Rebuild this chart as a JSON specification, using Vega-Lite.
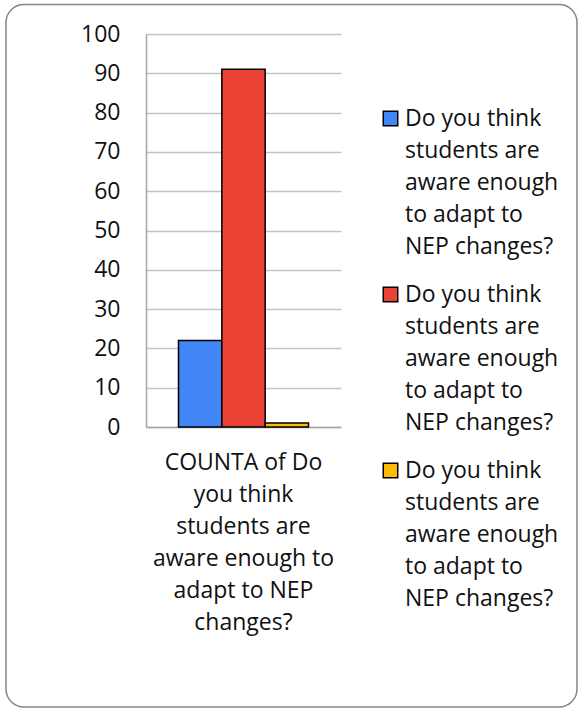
{
  "$schema": "https://vega.github.io/schema/vega-lite/v6.json",
  "autosize": {"type": "none"},
  "width": 195,
  "height": 393,
  "padding": {"left": 146, "top": 34, "right": 241, "bottom": 284},
  "background": "#ffffff",
  "config": {
    "font": "Open Sans",
    "view": {"stroke": null},
    "style": {"guide-label": {"lineHeight": 32}}
  },
  "layer": [
    {
      "data": {"values": [{}]},
      "mark": {
        "type": "rect",
        "fill": null,
        "stroke": "#858585",
        "strokeWidth": 1.5,
        "cornerRadius": 18,
        "clip": false
      },
      "encoding": {
        "x": {"value": -140},
        "x2": {"value": 431},
        "y": {"value": -29.5},
        "y2": {"value": 673}
      }
    },
    {
      "data": {
        "values": [
          {"category": "COUNTA of Do\nyou think\nstudents are\naware enough to\nadapt to NEP\nchanges?", "series": "1", "count": 22},
          {"category": "COUNTA of Do\nyou think\nstudents are\naware enough to\nadapt to NEP\nchanges?", "series": "2", "count": 91},
          {"category": "COUNTA of Do\nyou think\nstudents are\naware enough to\nadapt to NEP\nchanges?", "series": "3", "count": 1}
        ]
      },
      "mark": {"type": "bar", "stroke": "#000000", "strokeWidth": 1.5},
      "encoding": {
        "x": {
          "field": "category",
          "type": "nominal",
          "scale": {"paddingInner": 0, "paddingOuter": 0.25},
          "axis": {
            "title": null,
            "labelAngle": 0,
            "labelExpr": "split(datum.label, '\\n')",
            "labelFontSize": 23,
            "labelColor": "#111111",
            "labelLineHeight": 32,
            "labelPadding": 24,
            "labelLimit": 0,
            "ticks": false,
            "domainColor": "#a6a6a6",
            "domainWidth": 1.5
          }
        },
        "xOffset": {
          "field": "series",
          "type": "nominal",
          "scale": {"paddingInner": 0, "paddingOuter": 0}
        },
        "y": {
          "field": "count",
          "type": "quantitative",
          "scale": {"domain": [0, 100]},
          "axis": {
            "title": null,
            "values": [0, 10, 20, 30, 40, 50, 60, 70, 80, 90, 100],
            "labelFontSize": 23,
            "labelColor": "#111111",
            "labelPadding": 26,
            "ticks": false,
            "domainColor": "#a6a6a6",
            "domainWidth": 1.5,
            "gridColor": "#c4c4c4",
            "gridWidth": 1.5
          }
        },
        "color": {
          "field": "series",
          "type": "nominal",
          "scale": {"range": ["#4285F4", "#EA4335", "#FBBC04"]},
          "legend": {
            "title": null,
            "orient": "none",
            "legendX": 233,
            "legendY": 73,
            "padding": 0,
            "symbolType": "square",
            "symbolSize": 210,
            "symbolStrokeColor": "#000000",
            "symbolStrokeWidth": 1.5,
            "labelExpr": "['Do you think', 'students are', 'aware enough', 'to adapt to', 'NEP changes?']",
            "labelFontSize": 23,
            "labelColor": "#111111",
            "labelLimit": 0,
            "labelOffset": 3,
            "rowPadding": 24
          }
        }
      }
    }
  ]
}
